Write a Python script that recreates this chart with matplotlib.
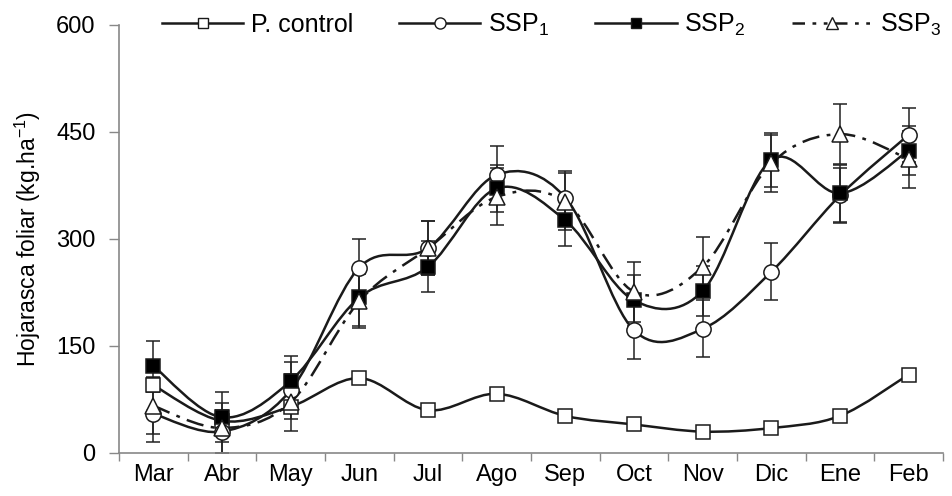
import numpy as np
import matplotlib
matplotlib.use("Agg")
import matplotlib.pyplot as plt
from matplotlib.path import Path
from matplotlib.patches import PathPatch
from matplotlib.lines import Line2D

plt.rcParams['font.family'] = ['Liberation Sans', 'DejaVu Sans']
plt.rcParams['mathtext.fontset'] = 'custom'
plt.rcParams['mathtext.rm'] = 'Liberation Sans'
plt.rcParams['mathtext.it'] = 'Liberation Sans'

months = ["Mar", "Abr", "May", "Jun", "Jul", "Ago", "Sep", "Oct", "Nov", "Dic", "Ene", "Feb"]

control = [95, 45, 65, 105, 60, 83, 52, 40, 30, 35, 52, 110]
control_err = [10, 8, 8, 8, 8, 8, 6, 6, 5, 5, 6, 8]

ssp1 = [55, 30, 88, 260, 287, 390, 358, 172, 174, 254, 361, 446]
ssp1_err = [40, 30, 40, 40, 38, 40, 37, 40, 40, 40, 38, 38]

ssp2 = [122, 50, 101, 218, 261, 371, 326, 214, 227, 411, 364, 424]
ssp2_err = [35, 35, 35, 40, 36, 33, 36, 36, 35, 38, 40, 34]

ssp3 = [66, 35, 71, 213, 287, 359, 352, 226, 261, 406, 447, 412]
ssp3_err = [40, 35, 40, 38, 38, 40, 40, 42, 42, 40, 42, 40]

dashdot = (0, (7, 3, 1.5, 3))
dashdotdot = (0, (5, 3, 1.5, 3, 1.5, 3))


def smooth_path(x, y):
    # Catmull-Rom style bezier, like Excel's smoothed lines
    pts = np.column_stack([x, y]).astype(float)
    n = len(pts)
    verts = [pts[0]]
    codes = [Path.MOVETO]
    for i in range(n - 1):
        p0 = pts[max(i - 1, 0)]
        p1 = pts[i]
        p2 = pts[i + 1]
        p3 = pts[min(i + 2, n - 1)]
        c1 = p1 + (p2 - p0) / 6.0
        c2 = p2 - (p3 - p1) / 6.0
        verts += [c1, c2, p2]
        codes += [Path.CURVE4] * 3
    return Path(verts, codes)


fig = plt.figure(figsize=(9.53, 4.96), dpi=100)
ax = fig.add_axes([0.1249, 0.0867, 0.8646, 0.8629])

x = np.arange(len(months))
series = [
    ("P. control", control, control_err, 's', 'white', '-', '-', 9.5),
    ("SSP$_1$", ssp1, ssp1_err, 'o', 'white', '-', '-', 11),
    ("SSP$_2$", ssp2, ssp2_err, 's', 'black', '-', '-', 9.5),
    ("SSP$_3$", ssp3, ssp3_err, '^', 'white', dashdot, dashdotdot, 11),
]

handles = []
for label, vals, err, mk, fc, ls, leg_ls, ms in series:
    ax.errorbar(x, vals, yerr=err, fmt='none', ecolor='#222222',
                elinewidth=1.1, capsize=5, capthick=1.1, zorder=2)
    patch = PathPatch(smooth_path(x, vals), facecolor='none', edgecolor='#1a1a1a',
                      lw=1.8, linestyle=ls, zorder=3)
    ax.add_patch(patch)
    ax.plot(x, vals, linestyle='none', marker=mk, markersize=ms,
            markerfacecolor=fc, markeredgecolor='#1a1a1a', markeredgewidth=1.1, zorder=4)
    handles.append(Line2D([], [], color='#1a1a1a', lw=1.8, linestyle=leg_ls, marker=mk,
                          markersize=ms - 3, markerfacecolor=fc,
                          markeredgecolor='#1a1a1a', label=label))

ax.set_xlim(-0.5, 11.5)
ax.set_ylim(0, 600)
ax.set_yticks([0, 150, 300, 450, 600])
ax.set_xticks(x)
ax.set_xticklabels(months)
ax.set_xticks(np.arange(-0.5, 12, 1), minor=True)
ax.tick_params(axis='x', which='major', length=0, pad=8, labelsize=17)
ax.tick_params(axis='x', which='minor', length=6, color='#888888', width=1)
ax.tick_params(axis='y', length=7, color='#888888', width=1, labelsize=17, pad=10)
for side in ['top', 'right']:
    ax.spines[side].set_visible(False)
for side in ['left', 'bottom']:
    ax.spines[side].set_color('#888888')
    ax.spines[side].set_linewidth(1.2)
ax.set_ylabel("Hojarasca foliar (kg.ha$^{-1}$)", fontsize=16.5, labelpad=9)

ax.legend(handles=handles, ncol=4, frameon=False, loc='center left',
          bbox_to_anchor=(0.04, 1.0), fontsize=18, handlelength=3.25,
          handletextpad=0.3, columnspacing=1.85, borderaxespad=0)

fig.savefig("out.png", dpi=100)
